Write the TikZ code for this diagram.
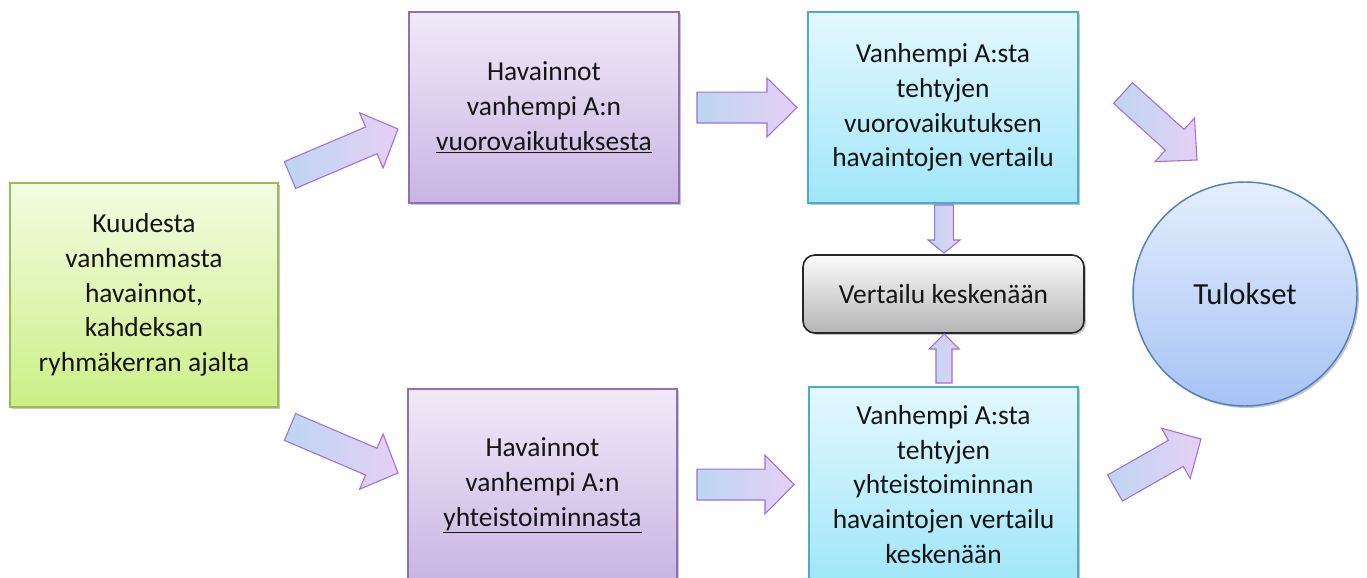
\documentclass[tikz,border=0pt]{standalone}
\usepackage{fontspec}
\setmainfont{Carlito}
\usetikzlibrary{calc,shadows}
\definecolor{grB}{HTML}{9BBB59}
\definecolor{grT}{HTML}{F3FCE2}
\definecolor{grM}{HTML}{CCEF86}
\definecolor{puB}{HTML}{8E72B0}
\definecolor{puT}{HTML}{F0EAF8}
\definecolor{puM}{HTML}{C9B4E3}
\definecolor{cyB}{HTML}{4BACC6}
\definecolor{cyT}{HTML}{E4F8FE}
\definecolor{cyM}{HTML}{A0E6F9}
\definecolor{gyT}{HTML}{FBFBFB}
\definecolor{gyM}{HTML}{B5B5B5}
\definecolor{ciB}{HTML}{4F81BD}
\definecolor{ciT}{HTML}{E5EEFC}
\definecolor{ciM}{HTML}{A6C3F5}
\definecolor{arB}{HTML}{A070D6}
\definecolor{arL}{HTML}{BCD6F2}
\definecolor{arR}{HTML}{E6D0F4}
\definecolor{txtC}{HTML}{151515}
\tikzset{
  txt/.style={font=\fontsize{20.6}{26}\selectfont, align=center, text=txtC},
  shad/.style={drop shadow={shadow xshift=1.5pt, shadow yshift=-1.5pt, opacity=0.22, fill=black}},
  greenbox/.style={txt, shad, draw=grB, line width=1.1pt, top color=grT, bottom color=grM, minimum width=201pt, minimum height=168pt, inner sep=0pt},
  purplebox/.style={txt, shad, draw=puB, line width=1.1pt, top color=puT, bottom color=puM, inner sep=0pt},
  cyanbox/.style={txt, shad, draw=cyB, line width=1.1pt, top color=cyT, bottom color=cyM, inner sep=0pt},
  greybox/.style={txt, shad, draw=black!85, line width=1.2pt, rounded corners=9pt, top color=gyT, bottom color=gyM, inner sep=0pt, minimum width=210.75pt, minimum height=58.5pt},
  resultcircle/.style={circle, shad, draw=ciB, line width=1.1pt, top color=ciT, bottom color=ciM, minimum size=168pt, inner sep=0pt, text=txtC, font=\fontsize{23}{27}\selectfont},
  blockarrow/.style={draw=arB, line width=0.8pt, left color=arL, right color=arR, line join=miter},
}
\newcommand\barrow[5]{%
  \coordinate (hb) at ($(#2)!#5!(#1)$);
  \path[blockarrow] ($(#1)!#3!90:(#2)$) -- ($(hb)!#3!90:(#2)$) -- ($(hb)!#4!90:(#2)$) -- (#2)
    -- ($(hb)!#4!-90:(#2)$) -- ($(hb)!#3!-90:(#2)$) -- ($(#1)!#3!-90:(#2)$) -- cycle;
}
\begin{document}
\begin{tikzpicture}[x=0.75pt, y=-0.75pt]
\useasboundingbox (0,0) rectangle (1367,578);
\clip (0,0) rectangle (1367,578);
\fill[white] (0,0) rectangle (1367,578);

% nodes
\node[greenbox] (src) at (144,295) {Kuudesta\\vanhemmasta\\havainnot,\\kahdeksan\\ryhmäkerran ajalta};
\node[purplebox, minimum width=202.5pt, minimum height=143.25pt] (obsA) at (544,107.5) {Havainnot\\vanhempi A:n\\\underline{vuorovaikutuksesta}};
\node[purplebox, minimum width=201.75pt, minimum height=144.75pt] (obsB) at (542.5,485.5) {Havainnot\\vanhempi A:n\\\underline{yhteistoiminnasta}};
\node[cyanbox, minimum width=202.5pt, minimum height=143.25pt] (cmpA) at (943,107.5) {Vanhempi A:sta\\tehtyjen\\vuorovaikutuksen\\havaintojen vertailu};
\node[cyanbox, minimum width=201.75pt, minimum height=146.25pt] (cmpB) at (943.5,484.5) {Vanhempi A:sta\\tehtyjen\\yhteistoiminnan\\havaintojen vertailu\\keskenään};
\node[greybox] (mutual) at (943.5,294) {Vertailu keskenään};
\node[resultcircle] (res) at (1245,294) {Tulokset};

% arrow end points
\coordinate (a1s) at (290,175);  \coordinate (a1e) at (398,129);
\coordinate (a2s) at (290,427);  \coordinate (a2e) at (398,473);
\coordinate (a3s) at (697,107.5); \coordinate (a3e) at (797,107.5);
\coordinate (a4s) at (697,484.5); \coordinate (a4e) at (794,484.5);
\coordinate (a5s) at (944,205);  \coordinate (a5e) at (944,253);
\coordinate (a6s) at (944,383);  \coordinate (a6e) at (944,334);
\coordinate (a7s) at (1123,93);  \coordinate (a7e) at (1197,160);
\coordinate (a8s) at (1115,488); \coordinate (a8e) at (1201,439);

\barrow{a1s}{a1e}{10.9pt}{22.5pt}{21.75pt}
\barrow{a2s}{a2e}{10.9pt}{22.5pt}{21.75pt}
\barrow{a3s}{a3e}{11.6pt}{22.1pt}{22.5pt}
\barrow{a4s}{a4e}{11.6pt}{22.1pt}{21.75pt}
\barrow{a5s}{a5e}{7pt}{12pt}{9.75pt}
\barrow{a6s}{a6e}{6pt}{11.25pt}{11.25pt}
\barrow{a7s}{a7e}{10.5pt}{22.1pt}{22.5pt}
\barrow{a8s}{a8e}{11.25pt}{21.75pt}{21.75pt}
\end{tikzpicture}
\end{document}
